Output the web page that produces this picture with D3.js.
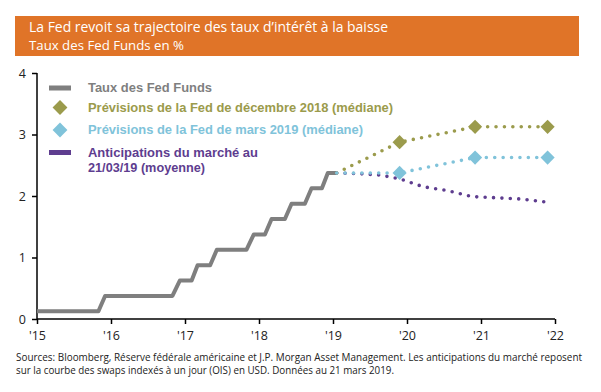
<!DOCTYPE html>
<html>
<head>
<meta charset="utf-8">
<script src="https://cdn.jsdelivr.net/npm/d3@7"></script>
<style>
  body { margin: 0; background: #fff; }
  svg { display: block; }
  .eje path, .eje line { stroke: #000; stroke-width: 1.5px; }
  .eje text { font-family: 'Open Sans', sans-serif; font-size: 12.5px; fill: #222; }
  .leyenda { font-family: 'Liberation Sans', Arial, sans-serif; font-weight: bold; font-size: 12px; }
</style>
</head>
<body>
<div id="graf"></div>
<script>
// I. Datos

// Taux des Fed Funds (milieu de fourchette)
fedFechas = [2015.0, 2015.83, 2015.92, 2016.83, 2016.93, 2017.09, 2017.17, 2017.34, 2017.43,
             2017.83, 2017.93, 2018.08, 2018.17, 2018.35, 2018.44, 2018.62, 2018.71, 2018.85,
             2018.93, 2019.05]
fedTasas = [0.125, 0.125, 0.375, 0.375, 0.625, 0.625, 0.875, 0.875, 1.125,
            1.125, 1.375, 1.375, 1.625, 1.625, 1.875, 1.875, 2.125, 2.125,
            2.375, 2.375]

// Prévisions de la Fed
prevFechas = [2019.05, 2019.9, 2020.92, 2021.9]
prevDic2018 = [2.375, 2.875, 3.125, 3.125]
prevMar2019 = [2.375, 2.375, 2.625, 2.625]

// Anticipations du marché
mercadoFechas = [2019.05, 2019.4, 2019.64, 2019.9, 2020.22, 2020.54, 2020.88, 2021.22, 2021.55, 2021.89]
mercadoTasas = [2.375, 2.36, 2.34, 2.28, 2.15, 2.09, 1.99, 1.97, 1.95, 1.90]

ticksY = [0, 1, 2, 3, 4]
ticksX = [2015, 2016, 2017, 2018, 2019, 2020, 2021, 2022]

leyenda = [
  { texto: ['Taux des Fed Funds'], tipo: 'linea', color: '#7f7f7f', ancho: [124] },
  { texto: ['Prévisions de la Fed de décembre 2018 (médiane)'], tipo: 'rombo', color: '#9b9b4c', ancho: [305] },
  { texto: ['Prévisions de la Fed de mars 2019 (médiane)'], tipo: 'rombo', color: '#80c3da', ancho: [275] },
  { texto: ['Anticipations du marché au', '21/03/19 (moyenne)'], tipo: 'linea', color: '#5e3d8f', ancho: [170, 117] }
]

// II. Configuracion

ancho_total = 601
alto_total = 392

svg = d3.select('#graf').append('svg')
        .attr('width', ancho_total)
        .attr('height', alto_total)

x = d3.scaleLinear().domain([2015, 2022]).range([37, 555])
y = d3.scaleLinear().domain([0, 4]).range([319, 73])

// Titulo
svg.append('rect')
   .attr('x', 15).attr('y', 16)
   .attr('width', 564).attr('height', 40)
   .attr('fill', '#e07428')

svg.append('text')
   .attr('x', 29).attr('y', 32)
   .attr('fill', '#fff')
   .style('font-family', "'Open Sans', sans-serif")
   .style('font-size', '14px')
   .attr('textLength', 359).attr('lengthAdjust', 'spacingAndGlyphs')
   .text('La Fed revoit sa trajectoire des taux d’intérêt à la baisse')

svg.append('text')
   .attr('x', 29).attr('y', 49.5)
   .attr('fill', '#fff')
   .style('font-family', "'Open Sans', sans-serif")
   .style('font-size', '12.5px')
   .attr('textLength', 155).attr('lengthAdjust', 'spacingAndGlyphs')
   .text('Taux des Fed Funds en %')

// Ejes
yAxisCall = d3.axisLeft(y).tickValues(ticksY).tickSize(5).tickPadding(6).tickFormat(d3.format('d'))
svg.append('g').attr('class', 'eje')
   .attr('transform', `translate(${x(2015)}, 0)`)
   .call(yAxisCall)
   .call(g => g.select('.domain').attr('d', `M0,${y(4)}V${y(0)}`))

xAxisCall = d3.axisBottom(x).tickValues(ticksX).tickSize(5).tickPadding(7)
              .tickFormat(d => "'" + String(d).slice(2))
svg.append('g').attr('class', 'eje')
   .attr('transform', `translate(0, ${y(0)})`)
   .call(xAxisCall)
   .call(g => g.select('.domain').attr('d', `M${x(2015)},0H${x(2022)}`))

// III. Series

linea = d3.line().x(d => x(d[0])).y(d => y(d[1]))

svg.append('path')
   .datum(d3.zip(fedFechas, fedTasas))
   .attr('d', linea)
   .attr('fill', 'none')
   .attr('stroke', '#7f7f7f')
   .attr('stroke-width', 4)
   .attr('stroke-linejoin', 'round')

function punteada(fechas, valores, color) {
  svg.append('path')
     .datum(d3.zip(fechas, valores))
     .attr('d', linea)
     .attr('fill', 'none')
     .attr('stroke', color)
     .attr('stroke-width', 3.6)
     .attr('stroke-linecap', 'round')
     .attr('stroke-dasharray', '0 8.4')
}

punteada(mercadoFechas, mercadoTasas, '#5e3d8f')
punteada(prevFechas, prevDic2018, '#9b9b4c')
punteada(prevFechas, prevMar2019, '#80c3da')

rombo = d3.symbol().type(d3.symbolSquare).size(100)

function rombos(fechas, valores, color) {
  svg.append('g').selectAll('path')
     .data(d3.zip(fechas, valores).slice(1))
     .join('path')
     .attr('d', rombo)
     .attr('transform', d => `translate(${x(d[0])}, ${y(d[1])}) rotate(45)`)
     .attr('fill', color)
}

rombos(prevFechas, prevDic2018, '#9b9b4c')
rombos(prevFechas, prevMar2019, '#80c3da')

// IV. Leyenda
filasY = [88, 107.5, 130, 152.5]
leyenda.forEach((d, i) => {
  cy = filasY[i]
  if (d.tipo == 'linea') {
    svg.append('rect').attr('x', 49).attr('y', cy - 2.5).attr('width', 22).attr('height', 5).attr('fill', d.color)
  } else {
    svg.append('path').attr('d', d3.symbol().type(d3.symbolSquare).size(110))
       .attr('transform', `translate(60, ${cy}) rotate(45)`).attr('fill', d.color)
  }
  d.texto.forEach((t, j) => {
    svg.append('text').attr('class', 'leyenda')
       .attr('x', 88).attr('y', cy + 4.3 + j * 15)
       .attr('fill', d.color)
       .attr('textLength', d.ancho[j]).attr('lengthAdjust', 'spacingAndGlyphs')
       .text(t)
  })
})

// V. Fuentes
fuentes = ['Sources: Bloomberg, Réserve fédérale américaine et J.P. Morgan Asset Management. Les anticipations du marché reposent',
           'sur la courbe des swaps indexés à un jour (OIS) en USD. Données au 21 mars 2019.']
fuentesAncho = [566, 378]
fuentes.forEach((t, i) => {
  svg.append('text')
     .attr('x', 16).attr('y', 361 + i * 13)
     .attr('fill', '#222')
     .style('font-family', "'Open Sans', sans-serif")
     .style('font-size', '10px')
     .attr('textLength', fuentesAncho[i]).attr('lengthAdjust', 'spacingAndGlyphs')
     .text(t)
})
</script>
</body>
</html>
